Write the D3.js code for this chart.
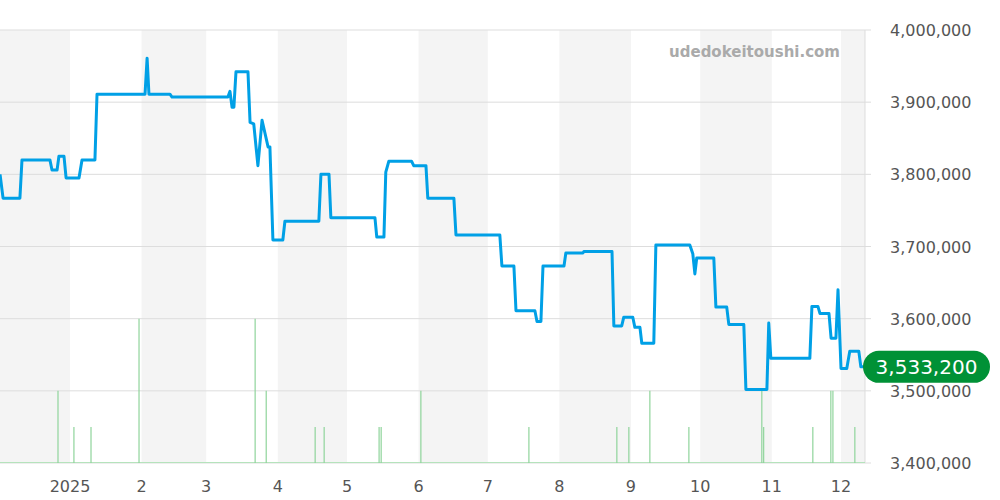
<!DOCTYPE html>
<html><head><meta charset="utf-8">
<script src="https://cdn.jsdelivr.net/npm/d3@7"></script>
<style>body{margin:0;background:#fff}svg{display:block}</style>
</head><body>
<script>
// days since 2025-01-01, price
const priceDays = [-30.3,-29,-21.7,-20.8,-8.7,-7.8,-5.6,-4.8,-2.6,-1.7,3.9,5.2,10.8,11.7,32.5,33.4,34.2,43.3,44.2,68.4,69.3,70.2,71,71.9,77.1,78,79.6,81.4,83.2,85.8,86.6,87.9,92.2,93.1,107.8,108.7,112.2,113,132.1,132.9,136,136.8,138.1,148,148.9,154.2,155,166.3,167.2,186.2,187.1,192.3,193.2,201.4,202.3,204,204.9,214,214.8,222.2,222.6,234.8,235.6,239,239.9,243.8,244.7,246.9,247.7,252.9,253.8,268.5,269.8,270.7,271.5,278.9,279.8,284.5,285.4,291.9,292.8,301.9,302.7,303.6,320.5,321.4,324,324.9,328.8,329.7,331.8,332.7,334,336.5,337.8,341.7,342.6,344];
const priceValues = [3800000,3767000,3767000,3820000,3820000,3806000,3806000,3825000,3825000,3795000,3795000,3820000,3820000,3911000,3911000,3961000,3911000,3911000,3907000,3907000,3915000,3893000,3893000,3942000,3942000,3872000,3870000,3812000,3875000,3838000,3838000,3709000,3709000,3735000,3735000,3800000,3800000,3740000,3740000,3713000,3713000,3803000,3818000,3818000,3812000,3812000,3767000,3767000,3716000,3716000,3673000,3673000,3611000,3611000,3596000,3596000,3673000,3673000,3691000,3691000,3693000,3693000,3590000,3590000,3602000,3602000,3588000,3588000,3566000,3566000,3702000,3702000,3690000,3662000,3684000,3684000,3616000,3616000,3592000,3592000,3502000,3502000,3594000,3545000,3545000,3617000,3617000,3607000,3607000,3573000,3573000,3640000,3531000,3531000,3555000,3555000,3533200,3533200];
const volDays = [-5.2,1.7,9.1,29.9,80.2,85,106.2,110.1,133.9,134.8,152,198.8,236.9,242.1,251.2,268.1,299.7,300.5,321.8,329.6,330.5,340];
const volValues = [2,1,1,4,4,2,1,1,1,1,2,1,1,1,2,1,2,1,1,2,2,1];
const yTicks = [3400000,3500000,3600000,3700000,3800000,3900000,4000000];
const monthLabels = ["2025","2","3","4","5","6","7","8","9","10","11","12"];
const lastPrice = "3,533,200";

const W=1000,H=500,L=0,R=865,T=30,B=463;
const base = new Date(2025,0,1).getTime();
const toDate = d => new Date(base + d*864e5);
const x = d3.scaleTime().domain([new Date(2025,0,1), new Date(2025,11,1)]).range([70,841]);
const y = d3.scaleLinear().domain([3400000,4000000]).range([B,T]);
const yv = d3.scaleLinear().domain([0,12]).range([B,T]);
const svg = d3.select("body").append("svg").attr("width",W).attr("height",H);

const months = d3.range(-1,12).map(m=>new Date(2025,m,1));
months.forEach((m,i)=>{
  if(i%2===0){
    const next = new Date(m.getFullYear(), m.getMonth()+1, 1);
    const x0=Math.max(L,x(m)), x1=Math.min(R,x(next));
    svg.append("rect").attr("x",x0).attr("y",T).attr("width",x1-x0).attr("height",B-T).attr("fill","#f4f4f4");
  }
});
svg.selectAll(".g").data(yTicks).join("line").attr("x1",L).attr("x2",R+6).attr("y1",d=>y(d)).attr("y2",d=>y(d)).attr("stroke","#dddddd");
svg.append("line").attr("x1",R).attr("x2",R).attr("y1",T).attr("y2",B).attr("stroke","#dddddd");
svg.selectAll(".yl").data(yTicks).join("text").attr("x",890).attr("y",d=>y(d)+6).attr("font-family","DejaVu Sans").attr("font-size",16).attr("fill","#555").text(d=>d3.format(",")(d));
svg.selectAll(".xl").data(monthLabels).join("text").attr("x",(d,i)=>x(new Date(2025,i,1))).attr("y",492).attr("text-anchor","middle").attr("font-family","DejaVu Sans").attr("font-size",16).attr("fill","#555").text(d=>d);
svg.append("text").attr("x",840).attr("y",57).attr("text-anchor","end").attr("font-family","DejaVu Sans").attr("font-weight","bold").attr("font-size",15).attr("fill","#aaa").text("udedokeitoushi.com");

svg.append("line").attr("x1",L).attr("x2",R).attr("y1",B-0.5).attr("y2",B-0.5).attr("stroke","#b5e3bc").attr("stroke-width",1);
svg.selectAll(".v").data(volDays).join("line").attr("x1",d=>x(toDate(d))).attr("x2",d=>x(toDate(d))).attr("y1",B).attr("y2",(d,i)=>yv(volValues[i])).attr("stroke","#8fd49b").attr("stroke-width",1.2);

svg.append("clipPath").attr("id","c").append("rect").attr("x",L).attr("y",0).attr("width",R-L).attr("height",H);
const pts = priceDays.map((d,i)=>[x(toDate(d)), y(priceValues[i])]);
svg.append("path").attr("clip-path","url(#c)").attr("d",d3.line()(pts)).attr("fill","none").attr("stroke","#00a0e6").attr("stroke-width",3).attr("stroke-linejoin","round");

const ly = y(priceValues[priceValues.length-1]);
svg.append("rect").attr("x",863).attr("y",ly-16).attr("width",127).attr("height",32).attr("rx",16).attr("fill","#009136");
svg.append("text").attr("x",926.5).attr("y",ly+7).attr("text-anchor","middle").attr("font-family","DejaVu Sans").attr("font-size",20).attr("fill","#fff").text(lastPrice);
</script>
</body></html>
